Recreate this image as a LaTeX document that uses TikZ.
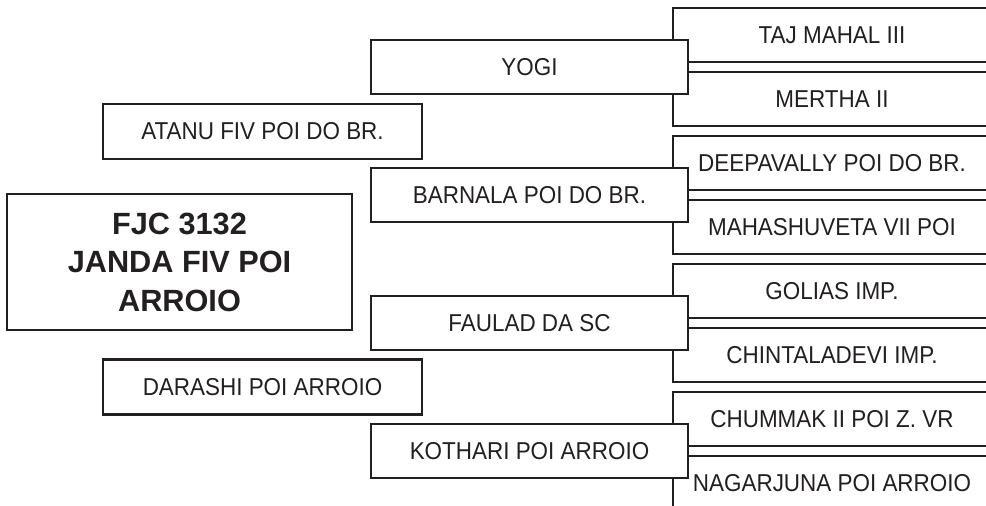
\documentclass[tikz,border=0pt]{standalone}
\usepackage{fontspec}
\usepackage{tikz}
\definecolor{dark_gray}{HTML}{231F20}
\newfontfamily\boxfont{Liberation Sans}[FakeStretch=0.92]
\newfontfamily\titlefont{Liberation Sans}

\begin{document}
\begin{tikzpicture}[x=1pt,y=1pt,
    boite/.style={draw=dark_gray, line width=2.2pt, fill=white, text=dark_gray, inner sep=0pt,
        font=\boxfont\fontsize{24.4}{29}\selectfont}]
        % Cadre de l'image
        \path[use as bounding box, clip] (0,0) rectangle (986,506);

        % Boites de droite
        \foreach \y/\nom/\n in {471/{TAJ MAHAL III}/1, 407/{MERTHA II}/2, 343/{DEEPAVALLY POI DO BR.}/3, 279/{MAHASHUVETA VII POI}/4,
            215/{GOLIAS IMP.}/5, 151/{CHINTALADEVI IMP.}/6, 87/{CHUMMAK II POI Z. VR}/7, 23/{NAGARJUNA POI ARROIO}/8} {
        \node[boite, minimum width=318, minimum height=54.5] (D\n) at (832,\y) {\nom};
        }

        % Boites du milieu
        \foreach \y/\nom/\n in {439/{YOGI}/1, 311/{BARNALA POI DO BR.}/2, 183/{FAULAD DA SC}/3, 55/{KOTHARI POI ARROIO}/4} {
        \node[boite, minimum width=317, minimum height=53.5] (M\n) at (529.5,\y) {\nom};
        }

        % Boites de gauche
        \node[boite, minimum width=319, minimum height=55] (G1) at (262.5,374.5) {ATANU FIV POI DO BR.};
        \node[boite, minimum width=319, minimum height=55] (G2) at (262.5,119) {DARASHI POI ARROIO};

        % Boite principale
        \node[boite, minimum width=345, minimum height=136, align=center,
            font=\titlefont\bfseries\fontsize{30.7}{38.5}\selectfont] (T) at (179.5,244) {FJC 3132\\JANDA FIV POI\\ARROIO};

    \end{tikzpicture}
\end{document}
